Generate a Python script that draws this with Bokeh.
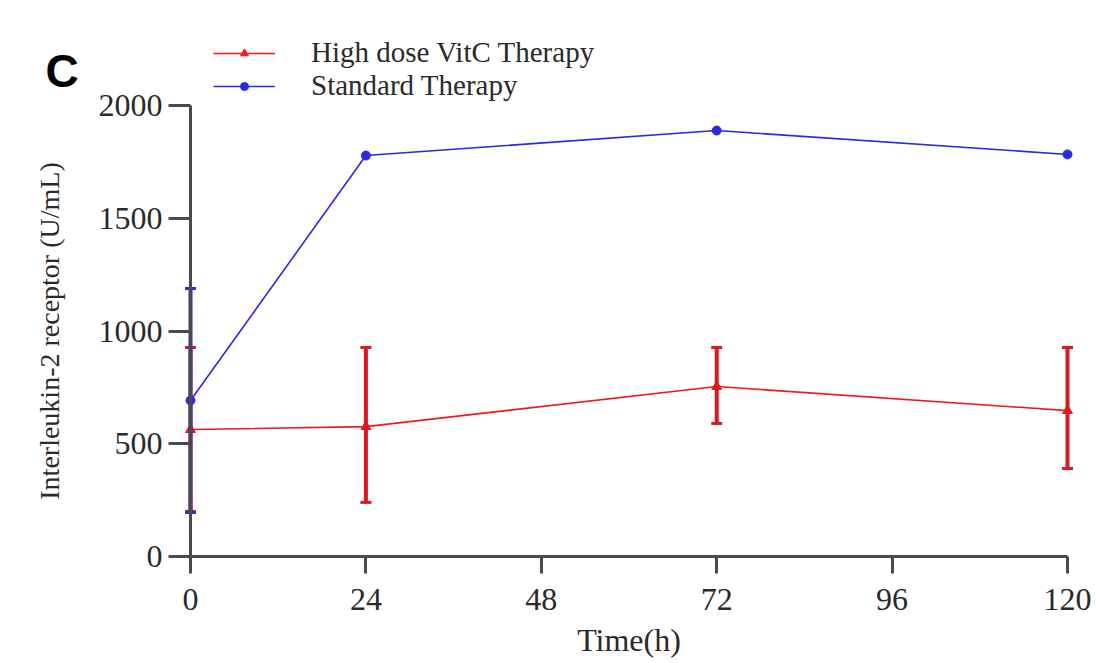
from bokeh.plotting import figure
from bokeh.models import (Range1d, LinearAxis, FixedTicker, Whisker, TeeHead,
                          ColumnDataSource, Legend, LegendItem, Label)
from bokeh.embed import file_html
from bokeh.resources import INLINE

# ---- data ----
time_h = [0, 24, 72, 120]
x_ticks = [0, 24, 48, 72, 96, 120]
y_ticks = [0, 500, 1000, 1500, 2000]

vitc_mean = [563, 576, 754, 647]
vitc_upper = [927, 927, 927, 927]
vitc_lower = [200, 240, 590, 390]

std_mean = [692, 1778, 1889, 1783]
# only the 0 h error bar of the standard group is visible
std_err_time = [0]
std_err_upper = [1188]
std_err_lower = [195]

RED = "#f01818"
RED_ERR = "#dc1820"
BLUE = "#2a2ae0"
AX = "#4a4a4a"
TXT = "#2a2a2a"
SERIF = "Liberation Serif"

W, H = 1096, 663
# pixel placement of the axes (frame = whole canvas, axes drawn at fixed locations)
X0_PX, X120_PX = 190, 1067
Y0_PX, Y2000_PX = 556, 105
sx = (X120_PX - X0_PX) / 120.0
sy = (Y0_PX - Y2000_PX) / 2000.0
x_start = -X0_PX / sx
y_start = -(H - Y0_PX) / sy

p = figure(width=W, height=H, output_backend="svg", toolbar_location=None,
           x_range=Range1d(x_start, x_start + W / sx),
           y_range=Range1d(y_start, y_start + H / sy),
           x_axis_location=None, y_axis_location=None,
           min_border_left=0, min_border_right=0,
           min_border_top=0, min_border_bottom=0)
p.grid.visible = False
p.outline_line_color = None
p.background_fill_color = "white"
p.border_fill_color = "white"

xa = LinearAxis(ticker=FixedTicker(ticks=x_ticks), bounds=(0, 120), fixed_location=0)
ya = LinearAxis(ticker=FixedTicker(ticks=y_ticks), bounds=(0, 2000), fixed_location=0)
for ax in (xa, ya):
    ax.axis_line_width = 3
    ax.axis_line_color = AX
    ax.major_tick_line_width = 3
    ax.major_tick_line_color = AX
    ax.major_tick_in = 0
    ax.minor_tick_line_color = None
    ax.major_label_text_font = SERIF
    ax.major_label_text_font_size = "32px"
    ax.major_label_text_color = TXT
    ax.axis_label_text_font = SERIF
    ax.axis_label_text_font_style = "normal"
    ax.axis_label_text_color = TXT
xa.major_tick_out = 17
ya.major_tick_out = 22
xa.major_label_standoff = 15
ya.major_label_standoff = 6
xa.axis_label = "Time(h)"
xa.axis_label_text_font_size = "32px"
xa.axis_label_standoff = 9
ya.axis_label = "Interleukin-2 receptor (U/mL)"
ya.axis_label_text_font_size = "28px"
ya.axis_label_standoff = 31
p.add_layout(xa, "below")
p.add_layout(ya, "left")

# ---- High dose VitC ----
red_src = ColumnDataSource(dict(t=time_h, m=vitc_mean, up=vitc_upper, lo=vitc_lower))
p.add_layout(Whisker(source=red_src, base="t", upper="up", lower="lo",
                     line_color=RED_ERR, line_width=4, level="glyph",
                     upper_head=TeeHead(size=11, line_width=3, line_color=RED_ERR),
                     lower_head=TeeHead(size=11, line_width=3, line_color=RED_ERR)))
red_line = p.line("t", "m", source=red_src, line_color=RED, line_width=1.6)
red_pts = p.scatter("t", "m", source=red_src, marker="triangle", size=10,
                    fill_color=RED, line_color=RED)

# ---- Standard ----
blue_src = ColumnDataSource(dict(t=time_h, m=std_mean))
blue_err = ColumnDataSource(dict(t=std_err_time, up=std_err_upper, lo=std_err_lower))
p.add_layout(Whisker(source=blue_err, base="t", upper="up", lower="lo",
                     line_color=BLUE, line_width=4, level="glyph",
                     upper_head=TeeHead(size=11, line_width=3, line_color=BLUE),
                     lower_head=TeeHead(size=11, line_width=3, line_color=BLUE)))
blue_line = p.line("t", "m", source=blue_src, line_color=BLUE, line_width=1.6)
blue_pts = p.scatter("t", "m", source=blue_src, marker="circle", size=9,
                     fill_color=BLUE, line_color=BLUE)


def make_legend(label, rends, loc):
    lg = Legend(items=[LegendItem(label=label, renderers=rends)], location=loc,
                glyph_width=62, glyph_height=20, label_height=20,
                label_standoff=36, padding=0, margin=0, spacing=0,
                border_line_color=None, background_fill_alpha=0,
                label_text_font=SERIF, label_text_font_size="29px",
                label_text_color=TXT)
    p.add_layout(lg, "center")


make_legend("High dose VitC Therapy", [red_line, red_pts], (213, 594))
make_legend("Standard Therapy", [blue_line, blue_pts], (213, 561))

p.add_layout(Label(x=45, y=593, x_units="screen", y_units="screen", text="C",
                   text_font="Liberation Sans", text_font_style="bold",
                   text_font_size="46px", text_baseline="alphabetic",
                   text_color="black"))

open("out.html", "w").write(file_html(p, INLINE))
